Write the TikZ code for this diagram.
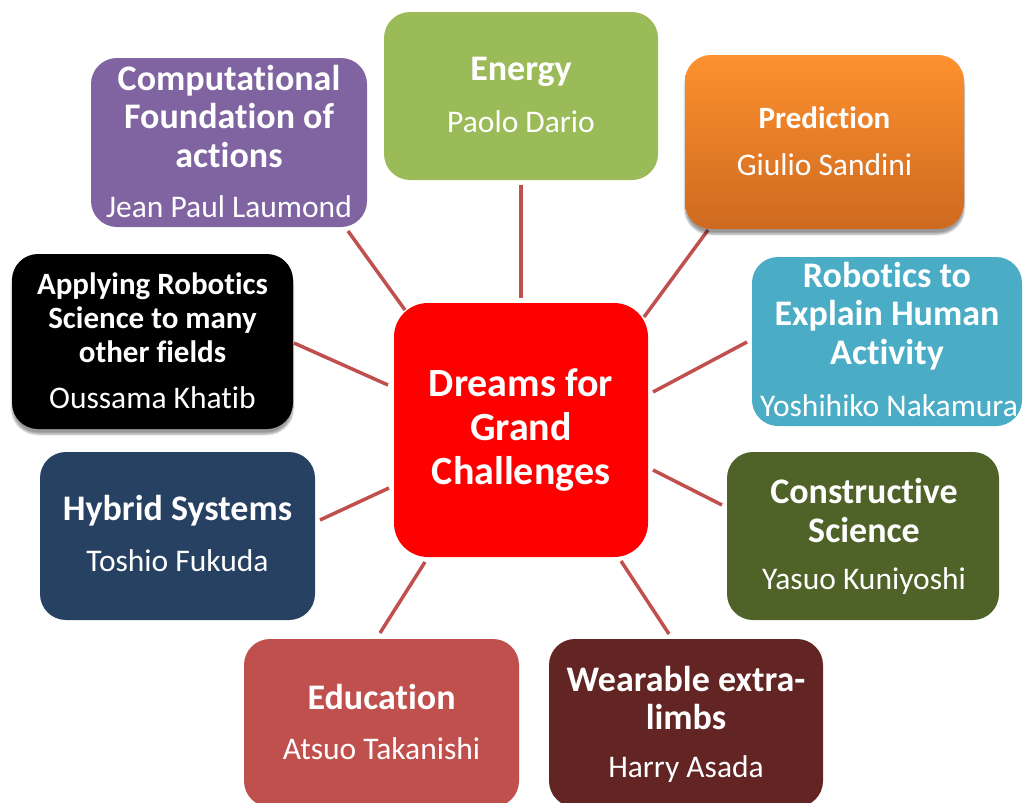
\documentclass[tikz,border=0pt]{standalone}
\usepackage{fontspec}
\setmainfont{Carlito}[Ligatures={NoCommon,NoRare,NoContextual}, Contextuals={NoAlternate}]
\usetikzlibrary{shadows.blur}
\newcommand{\tiNL}{t\kern0pt i}
\newcommand{\fiNL}{f\kern0pt i}
\definecolor{cpur}{HTML}{8064A2}
\definecolor{cgrn}{HTML}{9BBB59}
\definecolor{corT}{RGB}{253,145,46}
\definecolor{corB}{RGB}{206,106,32}
\definecolor{cteal}{HTML}{4BACC6}
\definecolor{cnavy}{RGB}{39,65,98}
\definecolor{cedu}{HTML}{C0504D}
\definecolor{ccon}{HTML}{4F6228}
\definecolor{cwear}{HTML}{632523}
\definecolor{clink}{HTML}{C0504D}
\tikzset{
  box/.style={rounded corners=26pt, inner sep=0pt, minimum width=#1},
  box/.default=275pt,
  ttl/.style={text=white, font=\bfseries\fontsize{36}{38.5}\selectfont, align=center, inner sep=0pt},
  ttls/.style={text=white, font=\bfseries\fontsize{31}{34}\selectfont, align=center, inner sep=0pt},
  nm/.style={text=white, font=\fontsize{31.5}{36}\selectfont, inner sep=0pt},
  ctr/.style={text=white, font=\bfseries\fontsize{40}{44}\selectfont, align=center, inner sep=0pt},
  link/.style={draw=clink, line width=3.5pt},
  shad/.style={blur shadow={shadow xshift=0pt, shadow yshift=-5pt, shadow blur steps=6, shadow opacity=40}},
}
\begin{document}
\begin{tikzpicture}[x=1pt,y=-1pt]
\useasboundingbox (0,0) rectangle (1026,803);
% connectors
\coordinate (l1a) at (521,185); \coordinate (l1b) at (521,298);
\coordinate (l2a) at (348,231); \coordinate (l2b) at (405,310);
\coordinate (l3a) at (294,343); \coordinate (l3b) at (388,385);
\coordinate (l4a) at (708,230); \coordinate (l4b) at (644,317);
\coordinate (l5a) at (747,342); \coordinate (l5b) at (653,392);
\coordinate (l6a) at (320,520); \coordinate (l6b) at (389,488);
\coordinate (l7a) at (425,562); \coordinate (l7b) at (380,633);
\coordinate (l8a) at (621,561); \coordinate (l8b) at (669,634);
\coordinate (l9a) at (653,470); \coordinate (l9b) at (722,505);
\foreach \i in {1,...,9} {\draw[link] (l\i a) -- (l\i b);}
% center
\node[box=254pt, rounded corners=34pt, minimum height=254pt, fill=red] (ctr) at (521,430) {};
\node[ctr] (ctrT) at (521,430) {Dreams for\\Grand\\Challenges};
% purple
\node[box=276pt, minimum height=169pt, fill=cpur] (pur) at (229,142.5) {};
\node[ttl] (purT) at (229,116.5) {Computa\tiNL onal\\Foundation of\\actions};
\node[nm] (purN) at (229,207) {Jean Paul Laumond};
% green
\node[box=274pt, minimum height=168pt, fill=cgrn] (grn) at (521,96) {};
\node[ttl] (grnT) at (521,72) {Energy};
\node[nm] (grnN) at (521,122) {Paolo Dario};
% orange
\node[box=279pt, minimum height=174pt, top color=corT, bottom color=corB, shad] (org) at (824.5,142) {};
\node[ttls] (orgT) at (824.5,118) {Predic\tiNL on};
\node[nm] (orgN) at (824.5,165) {Giulio Sandini};
% teal
\node[box=270pt, minimum height=169pt, fill=cteal] (tea) at (887,341.5) {};
\node[ttl] (teaT) at (887,316) {Robo\tiNL cs to\\Explain Human\\Ac\tiNL vity};
\node[nm] (teaN) at (889,406) {Yoshihiko Nakamura};
% black
\node[box=281pt, minimum height=175pt, fill=black, shad] (blk) at (152.5,341.5) {};
\node[ttls] (blkT) at (152.5,318) {Applying Robo\tiNL cs\\Science to many\\other \fiNL elds};
\node[nm] (blkN) at (152.5,398) {Oussama Khatib};
% navy
\node[box=275pt, minimum height=168pt, fill=cnavy] (nav) at (177.5,536) {};
\node[ttl] (navT) at (177.5,511) {Hybrid Systems};
\node[nm] (navN) at (177.5,561) {Toshio Fukuda};
% constructive
\node[box=272pt, minimum height=168pt, fill=ccon] (con) at (863,536) {};
\node[ttl] (conT) at (864,510.5) {Construc\tiNL ve\\Science};
\node[nm] (conN) at (864,581) {Yasuo Kuniyoshi};
% education
\node[box=275pt, minimum height=168pt, fill=cedu] (edu) at (381.5,723) {};
\node[ttl] (eduT) at (381.5,697) {Educa\tiNL on};
\node[nm] (eduN) at (381.5,749) {Atsuo Takanishi};
% wearable
\node[box=274pt, minimum height=168pt, fill=cwear] (wea) at (686,723) {};
\node[ttl] (weaT) at (686,698) {Wearable extra-\\limbs};
\node[nm] (weaN) at (686,769) {Harry Asada};
\end{tikzpicture}
\end{document}
